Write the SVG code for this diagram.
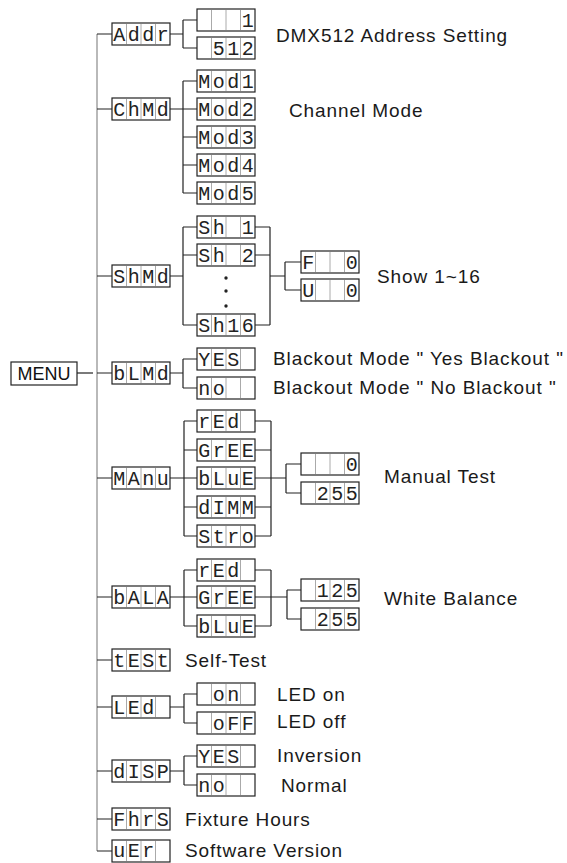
<svg xmlns="http://www.w3.org/2000/svg" xmlns:xlink="http://www.w3.org/1999/xlink" width="567" height="863" viewBox="0 0 567 863">
<style>
.c{fill:none;stroke:#222;stroke-width:1.2}
.trunk{fill:none;stroke:#8a8a8a;stroke-width:1.2}
.seg{font-family:"Liberation Mono","DejaVu Sans Mono",monospace;font-size:20px;fill:#222;letter-spacing:2.5px;white-space:pre}
.lbl{font-family:"Liberation Sans",Arial,sans-serif;font-size:19px;fill:#1a1a1a;letter-spacing:0.9px}
.menu{font-family:"Liberation Sans",Arial,sans-serif;font-size:18px;fill:#111}
.dot{fill:#222}
</style>
<defs>
<g id="box4">
<rect x="0" y="0" width="58" height="22" fill="#fff" stroke="#222" stroke-width="1.2"/>
<path d="M14.5,1V21M29,1V21M43.5,1V21" stroke="#aaa" stroke-width="1" fill="none"/>
</g>
</defs>
<rect width="567" height="863" fill="#fff"/>
<g id="connectors">
<path class="trunk" d="M97,34V851"/>
<path class="c" d="M77,373H93"/>
<path class="c" d="M97,34H112M97,109H112M97,276H112M97,373H112M97,478H112M97,597H112M97,660H112M97,707H112M97,771H112M97,819H112M97,851H112"/>
<path class="c" d="M170,34H183M183,20V48M183,20H197M183,48H197"/>
<path class="c" d="M170,109H183M183,81V193M183,81H197M183,109H197M183,137H197M183,165H197M183,193H197"/>
<path class="c" d="M170,276H183M183,227V325M183,227H197M183,255H197M183,325H197M255,227H270M255,255H270M255,325H270M270,227V325M270,276H285M285,262V290M285,262H301M285,290H301"/>
<path class="c" d="M170,373H183M183,359V388M183,359H197M183,388H197"/>
<path class="c" d="M170,478H184M184,421V536M184,421H197M184,450H197M184,478H197M184,507H197M184,536H197M255,421H271M255,450H271M255,478H271M255,507H271M255,536H271M271,421V536M271,478H286M286,464V493M286,464H301M286,493H301"/>
<path class="c" d="M170,597H184M184,570V626M184,570H197M184,597H197M184,626H197M255,570H271M255,597H271M255,626H271M271,570V626M271,597H287M287,590V619M287,590H301M287,619H301"/>
<path class="c" d="M170,707H184M184,694V723M184,694H197M184,723H197"/>
<path class="c" d="M170,771H184M184,756V785M184,756H197M184,785H197"/>
</g>
<g id="menu">
<rect x="11" y="362" width="66" height="23" fill="#fff" stroke="#222" stroke-width="1.2"/>
<text class="menu" x="44" y="380" text-anchor="middle">MENU</text>
</g>
<g id="addr"><use xlink:href="#box4" x="112" y="23"/><text class="seg" xml:space="preserve" x="113.25" y="41">Addr</text></g>
<g id="addr-1"><use xlink:href="#box4" x="197" y="9"/><text class="seg" xml:space="preserve" x="198.25" y="27">   1</text></g>
<g id="addr-512"><use xlink:href="#box4" x="197" y="37"/><text class="seg" xml:space="preserve" x="198.25" y="55"> 512</text></g>
<g id="addr-label"><text class="lbl" x="276" y="42">DMX512 Address Setting</text></g>

<g id="chmd"><use xlink:href="#box4" x="112" y="98"/><text class="seg" xml:space="preserve" x="113.25" y="116">ChMd</text></g>
<g id="mod1"><use xlink:href="#box4" x="197" y="70"/><text class="seg" xml:space="preserve" x="198.25" y="88">Mod1</text></g>
<g id="mod2"><use xlink:href="#box4" x="197" y="98"/><text class="seg" xml:space="preserve" x="198.25" y="116">Mod2</text></g>
<g id="mod3"><use xlink:href="#box4" x="197" y="126"/><text class="seg" xml:space="preserve" x="198.25" y="144">Mod3</text></g>
<g id="mod4"><use xlink:href="#box4" x="197" y="154"/><text class="seg" xml:space="preserve" x="198.25" y="172">Mod4</text></g>
<g id="mod5"><use xlink:href="#box4" x="197" y="182"/><text class="seg" xml:space="preserve" x="198.25" y="200">Mod5</text></g>
<g id="chmd-label"><text class="lbl" x="289" y="117">Channel Mode</text></g>

<g id="shmd"><use xlink:href="#box4" x="112" y="265"/><text class="seg" xml:space="preserve" x="113.25" y="283">ShMd</text></g>
<g id="sh1"><use xlink:href="#box4" x="197" y="216"/><text class="seg" xml:space="preserve" x="198.25" y="234">Sh 1</text></g>
<g id="sh2"><use xlink:href="#box4" x="197" y="244"/><text class="seg" xml:space="preserve" x="198.25" y="262">Sh 2</text></g>
<g id="sh-ellipsis"><circle class="dot" cx="226" cy="278" r="1.7"/><circle class="dot" cx="226" cy="291" r="1.7"/><circle class="dot" cx="226" cy="306" r="1.7"/></g>
<g id="sh16"><use xlink:href="#box4" x="197" y="314"/><text class="seg" xml:space="preserve" x="198.25" y="332">Sh16</text></g>
<g id="sh-f"><use xlink:href="#box4" x="301" y="251"/><text class="seg" xml:space="preserve" x="302.25" y="269">F  0</text></g>
<g id="sh-u"><use xlink:href="#box4" x="301" y="279"/><text class="seg" xml:space="preserve" x="302.25" y="297">U  0</text></g>
<g id="shmd-label"><text class="lbl" x="377" y="283">Show 1~16</text></g>

<g id="blmd"><use xlink:href="#box4" x="112" y="362"/><text class="seg" xml:space="preserve" x="113.25" y="380">bLMd</text></g>
<g id="blmd-yes"><use xlink:href="#box4" x="197" y="348"/><text class="seg" xml:space="preserve" x="198.25" y="366">YES </text></g>
<g id="blmd-no"><use xlink:href="#box4" x="197" y="377"/><text class="seg" xml:space="preserve" x="198.25" y="395">no  </text></g>
<g id="blmd-labels"><text class="lbl" x="273" y="365">Blackout Mode " Yes Blackout "</text><text class="lbl" x="273" y="394">Blackout Mode " No Blackout "</text></g>

<g id="manu"><use xlink:href="#box4" x="112" y="467"/><text class="seg" xml:space="preserve" x="113.25" y="485">MAnu</text></g>
<g id="manu-red"><use xlink:href="#box4" x="197" y="410"/><text class="seg" xml:space="preserve" x="198.25" y="428">rEd </text></g>
<g id="manu-gree"><use xlink:href="#box4" x="197" y="439"/><text class="seg" xml:space="preserve" x="198.25" y="457">GrEE</text></g>
<g id="manu-blue"><use xlink:href="#box4" x="197" y="467"/><text class="seg" xml:space="preserve" x="198.25" y="485">bLuE</text></g>
<g id="manu-dimm"><use xlink:href="#box4" x="197" y="496"/><text class="seg" xml:space="preserve" x="198.25" y="514">dIMM</text></g>
<g id="manu-stro"><use xlink:href="#box4" x="197" y="525"/><text class="seg" xml:space="preserve" x="198.25" y="543">Stro</text></g>
<g id="manu-0"><use xlink:href="#box4" x="301" y="453"/><text class="seg" xml:space="preserve" x="302.25" y="471">   0</text></g>
<g id="manu-255"><use xlink:href="#box4" x="301" y="482"/><text class="seg" xml:space="preserve" x="302.25" y="500"> 255</text></g>
<g id="manu-label"><text class="lbl" x="384" y="483">Manual Test</text></g>

<g id="bala"><use xlink:href="#box4" x="112" y="586"/><text class="seg" xml:space="preserve" x="113.25" y="604">bALA</text></g>
<g id="bala-red"><use xlink:href="#box4" x="197" y="559"/><text class="seg" xml:space="preserve" x="198.25" y="577">rEd </text></g>
<g id="bala-gree"><use xlink:href="#box4" x="197" y="586"/><text class="seg" xml:space="preserve" x="198.25" y="604">GrEE</text></g>
<g id="bala-blue"><use xlink:href="#box4" x="197" y="615"/><text class="seg" xml:space="preserve" x="198.25" y="633">bLuE</text></g>
<g id="bala-125"><use xlink:href="#box4" x="301" y="579"/><text class="seg" xml:space="preserve" x="302.25" y="597"> 125</text></g>
<g id="bala-255"><use xlink:href="#box4" x="301" y="608"/><text class="seg" xml:space="preserve" x="302.25" y="626"> 255</text></g>
<g id="bala-label"><text class="lbl" x="384" y="605">White Balance</text></g>

<g id="test"><use xlink:href="#box4" x="112" y="649"/><text class="seg" xml:space="preserve" x="113.25" y="667">tESt</text><text class="lbl" x="185" y="667">Self-Test</text></g>

<g id="led"><use xlink:href="#box4" x="112" y="696"/><text class="seg" xml:space="preserve" x="113.25" y="714">LEd </text></g>
<g id="led-on"><use xlink:href="#box4" x="197" y="683"/><text class="seg" xml:space="preserve" x="198.25" y="701"> on </text></g>
<g id="led-off"><use xlink:href="#box4" x="197" y="712"/><text class="seg" xml:space="preserve" x="198.25" y="730"> oFF</text></g>
<g id="led-labels"><text class="lbl" x="277" y="701">LED on</text><text class="lbl" x="277" y="728">LED off</text></g>

<g id="disp"><use xlink:href="#box4" x="112" y="760"/><text class="seg" xml:space="preserve" x="113.25" y="778">dISP</text></g>
<g id="disp-yes"><use xlink:href="#box4" x="197" y="745"/><text class="seg" xml:space="preserve" x="198.25" y="763">YES </text></g>
<g id="disp-no"><use xlink:href="#box4" x="197" y="774"/><text class="seg" xml:space="preserve" x="198.25" y="792">no  </text></g>
<g id="disp-labels"><text class="lbl" x="277" y="762">Inversion</text><text class="lbl" x="281" y="792">Normal</text></g>

<g id="fhrs"><use xlink:href="#box4" x="112" y="808"/><text class="seg" xml:space="preserve" x="113.25" y="826">FhrS</text><text class="lbl" x="185" y="826">Fixture Hours</text></g>
<g id="uer"><use xlink:href="#box4" x="112" y="840"/><text class="seg" xml:space="preserve" x="113.25" y="857">uEr </text><text class="lbl" x="185" y="857">Software Version</text></g>
</svg>
